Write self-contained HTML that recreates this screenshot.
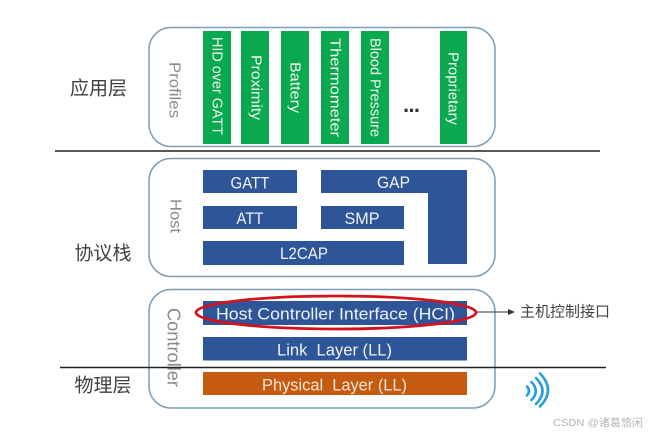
<!DOCTYPE html>
<html><head><meta charset="utf-8"><style>
html,body{margin:0;padding:0;background:#fff}
svg{display:block;filter:blur(0.35px)}
text{font-family:"Liberation Sans","Noto Sans CJK SC",sans-serif}
.w{fill:#f2f5f0;font-size:15px;text-anchor:middle;dominant-baseline:central}
.c{fill:#404040;font-size:19px;text-anchor:middle;dominant-baseline:central}
.g{fill:#8a8a8a;font-size:16px;text-anchor:middle;dominant-baseline:central}
.b{fill:#eef2f6;font-size:17px;text-anchor:middle;dominant-baseline:central}
</style></head><body>
<svg width="649" height="434" viewBox="0 0 649 434" xmlns="http://www.w3.org/2000/svg">
<rect x="149" y="27.500" width="346" height="119" rx="22" fill="#fff" stroke="#7f9db5" stroke-width="1.500"/>
<rect x="149" y="158.500" width="346" height="118" rx="22" fill="#fff" stroke="#7f9db5" stroke-width="1.500"/>
<rect x="149" y="289.500" width="346" height="118.500" rx="22" fill="#fff" stroke="#7f9db5" stroke-width="1.500"/>

<g fill="#0aa84f">
<rect x="203" y="31" width="28" height="113"/>
<rect x="241" y="31" width="28" height="113"/>
<rect x="281" y="31" width="28" height="113"/>
<rect x="321" y="31" width="28" height="113"/>
<rect x="361" y="31" width="28" height="113"/>
<rect x="440" y="31" width="27" height="113"/>
</g>
<text class="w" transform="translate(217,86) rotate(90)" textLength="98" lengthAdjust="spacingAndGlyphs">HID over GATT</text>
<text class="w" transform="translate(256,87.500) rotate(90)" textLength="65" lengthAdjust="spacingAndGlyphs">Proximity</text>
<text class="w" transform="translate(295,87.500) rotate(90)" textLength="51" lengthAdjust="spacingAndGlyphs">Battery</text>
<text class="w" transform="translate(335,87.500) rotate(90)" textLength="99" lengthAdjust="spacingAndGlyphs">Thermometer</text>
<text class="w" transform="translate(375,87.500) rotate(90)" textLength="99" lengthAdjust="spacingAndGlyphs">Blood Pressure</text>
<text class="w" transform="translate(453,88.500) rotate(90)" textLength="73" lengthAdjust="spacingAndGlyphs">Proprietary</text>
<text x="411.500" y="112" textLength="17" lengthAdjust="spacing" style="font-size:22px;font-weight:bold;text-anchor:middle;fill:#333">...</text>
<text class="g" transform="translate(174,90) rotate(90)" textLength="56" lengthAdjust="spacingAndGlyphs">Profiles</text>

<g fill="#2e5597">
<rect x="203" y="170" width="94" height="23"/>
<path d="M321 170H467V264H428V193H321Z"/>
<rect x="203" y="206" width="94" height="23"/>
<rect x="321" y="206" width="83" height="23"/>
<rect x="203" y="241" width="201" height="24"/>
<rect x="203" y="301" width="264" height="24"/>
<rect x="203" y="337" width="264" height="23.500"/>
</g>
<rect x="203" y="372" width="264" height="23" fill="#c55a11"/>
<text class="b" x="250" y="183" textLength="39" lengthAdjust="spacingAndGlyphs">GATT</text>
<text class="b" x="393.500" y="182.500" textLength="33" lengthAdjust="spacingAndGlyphs">GAP</text>
<text class="b" x="250" y="218.500" textLength="27" lengthAdjust="spacingAndGlyphs">ATT</text>
<text class="b" x="362" y="218.500" textLength="35" lengthAdjust="spacingAndGlyphs">SMP</text>
<text class="b" x="304" y="253.500" textLength="48" lengthAdjust="spacingAndGlyphs">L2CAP</text>
<text class="g" transform="translate(175,216) rotate(90)" textLength="34" lengthAdjust="spacingAndGlyphs">Host</text>

<text class="b" x="335.500" y="314" textLength="239" lengthAdjust="spacingAndGlyphs">Host Controller Interface (HCI)</text>
<text class="b" x="334.500" y="350" textLength="115" lengthAdjust="spacingAndGlyphs">Link&#160; Layer (LL)</text>
<text class="b" x="334.500" y="385" textLength="145" lengthAdjust="spacingAndGlyphs" style="fill:#f5e6d8">Physical&#160; Layer (LL)</text>
<text class="g" transform="translate(173.500,347.500) rotate(90)" textLength="79" lengthAdjust="spacingAndGlyphs" style="font-size:18px">Controller</text>

<ellipse cx="336" cy="312.500" rx="140" ry="16.500" fill="none" stroke="#d3121e" stroke-width="2.800"/>

<line x1="55" y1="151" x2="600" y2="151" stroke="#222" stroke-width="1.500"/>
<line x1="60" y1="367.500" x2="606" y2="367.500" stroke="#222" stroke-width="1.500"/>

<line x1="477" y1="312" x2="510" y2="312" stroke="#333" stroke-width="1"/>
<path d="M508 309L515 312L508 315Z" fill="#333"/>
<text x="520" y="312" style="font-size:15px;fill:#444;dominant-baseline:central">主机控制接口</text>

<text class="c" x="98.500" y="89">应用层</text>
<text class="c" x="103" y="254">协议栈</text>
<text class="c" x="103" y="386">物理层</text>

<g fill="none" stroke="#2a9fd6" stroke-width="2.600" stroke-linecap="round">
<path d="M527 386.500Q531 391 527 395.500"/>
<path d="M531.500 382Q540 391 531.500 400"/>
<path d="M536 378Q549 391 536 404"/>
<path d="M540 373.500Q556 390 540 406.500"/>
</g>

<text x="553" y="423" textLength="90" lengthAdjust="spacingAndGlyphs" style="font-size:10.500px;fill:#b5b5b5;dominant-baseline:central">CSDN @诸葛悠闲</text>
</svg>
</body></html>
